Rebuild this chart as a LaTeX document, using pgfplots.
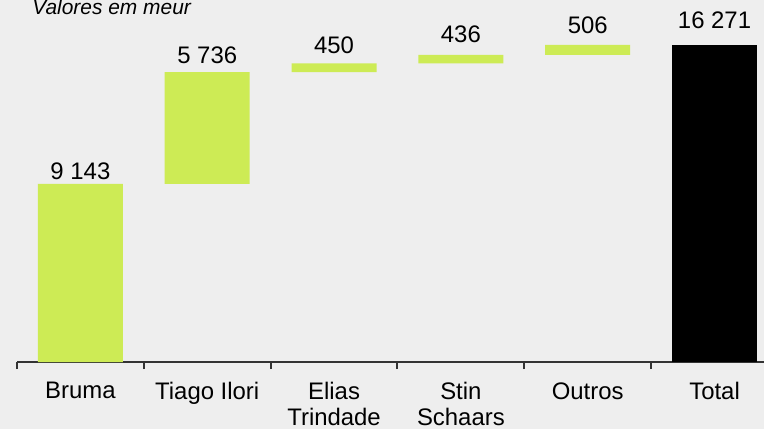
\documentclass[border=0pt]{standalone}
\usepackage{fontspec}
\setmainfont{Liberation Sans}
\usepackage{pgfplots}
\usepackage{pgfplotstable}
\pgfplotsset{compat=1.18}

\definecolor{bgc}{RGB}{238,238,238}
\definecolor{barlime}{RGB}{205,235,85}

% waterfall: invisible base + total + increments; top = where the label sits
\pgfplotstableread[col sep=comma]{
x,base,tot,inc,top,lab,off
0,0,0,9143,9143,9 143,2
1,9143,0,5736,14879,5 736,4.5
2,14879,0,450,15329,450,5
3,15329,0,436,15765,436,6
4,15765,0,506,16271,506,5.5
5,0,16271,0,16271,16 271,8
}\wf

\pgfplotsset{frame/.style={
    scale only axis,
    width=373.5bp, height=181bp,
    xmin=-0.5, xmax=5.39,
    ymin=0, ymax=18575,
    clip=false,
}}

\begin{document}
\begin{tikzpicture}
\fill[bgc] (-8.5bp,-33.5bp) rectangle (373.5bp,181bp);
\begin{axis}[
    frame,
    ybar stacked,
    bar width=42.5bp,
    axis y line=none,
    axis x line*=bottom,
    axis line style={black!80, line width=1bp},
    xtick={-0.5,0.5,1.5,2.5,3.5,4.5},
    xticklabels={},
    tick align=outside,
    major tick length=3.5bp,
    tick style={black!80, line width=1bp},
    extra x ticks={0,1,2,3,4,5},
    extra x tick labels={Bruma,Tiago Ilori,{Elias\\Trindade},{Stin\\Schaars},Outros,Total},
    extra x tick style={
        major tick length=0pt,
        tick label style={anchor=north, inner sep=0pt, yshift=-10bp,
            align=center, font=\fontsize{12}{13}\selectfont},
    },
]
\addplot[draw=none, fill=none] table[x=x, y=base]{\wf};
\addplot[draw=none, fill=black] table[x=x, y=tot]{\wf};
\addplot[draw=none, fill=barlime] table[x=x, y=inc]{\wf};
\node[anchor=base west, inner sep=0pt, xshift=7.5bp, yshift=-7.5bp,
    font=\fontsize{10.5}{12}\selectfont\itshape] at (rel axis cs:0,1) {Valores em meur};
\end{axis}
% value labels, unstacked overlay
\begin{axis}[frame, hide axis]
\addplot[draw=none, mark=none,
    nodes near coords,
    point meta=explicit symbolic,
    visualization depends on={\thisrow{off} \as \myoff},
    nodes near coords style={anchor=base, yshift=\myoff*1bp,
        font=\fontsize{12}{14}\selectfont, text=black},
] table[x=x, y=top, meta=lab]{\wf};
\end{axis}
\pgfresetboundingbox
\path[use as bounding box] (-8.5bp,-33.5bp) rectangle (373.5bp,181bp);
\end{tikzpicture}
\end{document}
